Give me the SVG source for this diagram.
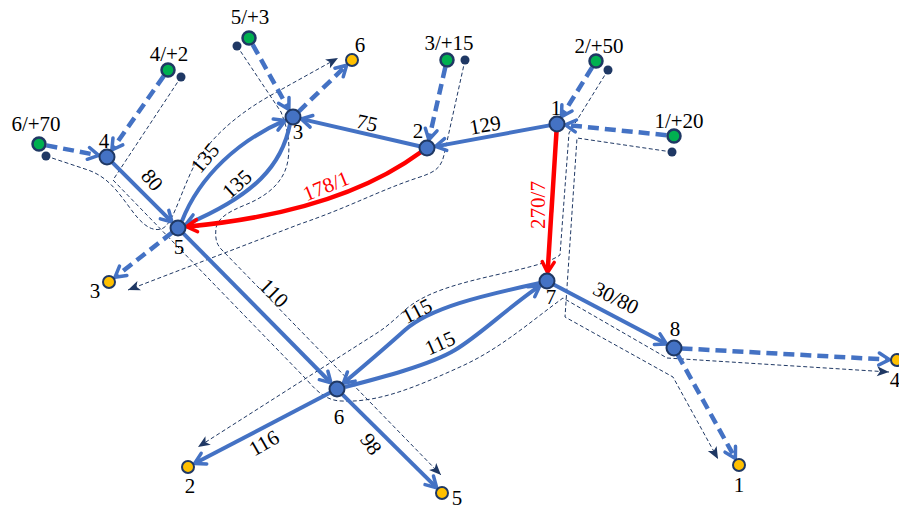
<svg xmlns="http://www.w3.org/2000/svg" width="899" height="509" viewBox="0 0 899 509" font-family="'Liberation Serif', 'Times New Roman', 'DejaVu Serif', serif">
<defs>
<style>
.e{fill:none;stroke:#4472C4;stroke-width:4;marker-end:url(#ab)}
.d{fill:none;stroke:#4472C4;stroke-width:4.5;stroke-dasharray:11 6;marker-end:url(#ab)}
.r{fill:none;stroke:#FF0000;stroke-width:4.5;marker-end:url(#ar)}
.f{fill:none;stroke:#1F3864;stroke-width:1;stroke-dasharray:4 2.5;marker-end:url(#af)}
.n{fill:#4472C4;stroke:#1F3864;stroke-width:2}
.g{fill:#00B050;stroke:#1F3864;stroke-width:2.5}
.y{fill:#FFC000;stroke:#1F3864;stroke-width:2}
.k{fill:#1F3864}
text{font-family:'Liberation Serif','Times New Roman','DejaVu Serif',serif;font-size:21px;fill:#000;text-anchor:middle}
.rt{fill:#FF0000}
</style>
<marker id="ab" viewBox="0 0 15 15" refX="10" refY="7.5" markerWidth="15" markerHeight="15" markerUnits="userSpaceOnUse" orient="auto" overflow="visible"><path d="M1.5,1.5 L12,7.5 L1.5,13.5" fill="none" stroke="#4472C4" stroke-width="3.5" stroke-linecap="round" stroke-linejoin="round"/></marker>
<marker id="ar" viewBox="0 0 15 15" refX="10" refY="7.5" markerWidth="15" markerHeight="15" markerUnits="userSpaceOnUse" orient="auto" overflow="visible"><path d="M1.5,1.5 L12,7.5 L1.5,13.5" fill="none" stroke="#FF0000" stroke-width="3.5" stroke-linecap="round" stroke-linejoin="round"/></marker>
<marker id="af" viewBox="0 0 12 10" refX="12" refY="5" markerWidth="12" markerHeight="10" markerUnits="userSpaceOnUse" orient="auto" overflow="visible"><path d="M0,0 L12,5 L0,10 L3,5 Z" fill="#1F3864"/></marker>
</defs>
<rect width="899" height="509" fill="#fff"/>
<g id="connectors">
<g id="flow-paths">
<path class="f" d="M46,156 L88,170 C108,177 118,192 130,208 C140,222 150,232 161,229 C172,226 178,200 192,170 C208,138 240,112 275,93 L338,58"/>
<path class="f" d="M181,77 L113,180 L307,380 C318,393 328,401 342,401 C380,403 420,385 460,367 C500,349 530,322 563,298 L667,358 L889,372"/>
<path class="f" d="M237,46 L281,112 C286,125 291,140 288,160 C285,180 270,195 245,205 C228,212 218,218 216,228 C215,238 216,244 222,250 L441,475"/>
<path class="f" d="M465,60 L444,155 C441,168 435,172 420,177 C380,190 350,207 300,224 L128,290"/>
<path class="f" d="M608,70 L569,133 L560,255 C550,262 535,266 500,274 C460,283 425,292 405,310 C392,322 385,328 377,333 L198,447"/>
<path class="f" d="M672,152 L577,138 L565,317 L673,377 L718,459"/>
</g>
<g id="edges">
<path class="e" d="M549.6,125.4 L437.3,146.1"/>
<path class="e" d="M419.7,146.3 L303.2,119.4"/>
<path class="e" d="M112.3,162.3 L170.6,220.6"/>
<path class="e" d="M183.3,233.3 L329.6,381.5"/>
<path class="e" d="M553.6,284.5 L664.7,343.1"/>
<path class="e" d="M330.4,392.5 L196.4,462.6"/>
<path class="e" d="M342.3,394.3 L435.3,486.3"/>
<path class="e" d="M182,221 C200,175 240,140 283.4,121.2"/>
<path class="e" d="M290,124 C282,165 255,195 187.6,223.8"/>
<path class="e" d="M540,283 C480,296 430,308 405,330 C385,348 365,365 344.8,382"/>
<path class="e" d="M345,387 C380,378 430,365 455,350 C480,335 505,310 538.3,286.9"/>
<path class="r" d="M421,152 Q340,212 188.5,226.5"/>
<path class="r" d="M556.5,131.5 L547.7,270.5"/>
<path class="d" d="M46.4,145.4 L96.7,155"/>
<path class="d" d="M163.7,76.1 L113,148.4"/>
<path class="d" d="M252.7,44.6 L287.9,107.8"/>
<path class="d" d="M298.4,111.8 L345.2,66.6"/>
<path class="d" d="M445.3,67.3 L429.3,137.8"/>
<path class="d" d="M592.1,67.4 L562.5,115.1"/>
<path class="d" d="M666.5,135.2 L567.4,125.1"/>
<path class="d" d="M172.1,232.6 L116.5,276.1"/>
<path class="d" d="M677.6,354.6 L734.4,456.7"/>
<path class="d" d="M681.5,348.4 L887.5,359.5"/>
</g>
<g id="edge-labels">
<text transform="translate(485,125) rotate(-10)" y="7">129</text>
<text transform="translate(367,123) rotate(13)" y="7">75</text>
<text class="rt" transform="translate(326,186) rotate(-22)" y="7">178/1</text>
<text class="rt" transform="translate(538,205) rotate(-90)" y="7">270/7</text>
<text transform="translate(205,158) rotate(-50)" y="7">135</text>
<text transform="translate(237,184) rotate(-42)" y="7">135</text>
<text transform="translate(152,180) rotate(50)" y="7">80</text>
<text transform="translate(274,293) rotate(45)" y="7">110</text>
<text transform="translate(417,311) rotate(-27)" y="7">115</text>
<text transform="translate(440,343) rotate(-24)" y="7">115</text>
<text transform="translate(616,298) rotate(27)" y="7">30/80</text>
<text transform="translate(264,443) rotate(-30)" y="7">116</text>
<text transform="translate(371,444) rotate(55)" y="7">98</text>
</g>
</g>
<g id="node-1"><circle class="n" cx="557" cy="124" r="7.5"/><text x="556" y="115">1</text></g>
<g id="node-2"><circle class="n" cx="427" cy="148" r="7.5"/><text x="418" y="138">2</text></g>
<g id="node-3"><circle class="n" cx="293" cy="117" r="7.5"/><text x="298" y="139">3</text></g>
<g id="node-4"><circle class="n" cx="107" cy="157" r="7.5"/><text x="104" y="148">4</text></g>
<g id="node-5"><circle class="n" cx="178" cy="228" r="7.5"/><text x="179" y="254">5</text></g>
<g id="node-6"><circle class="n" cx="337" cy="389" r="7.5"/><text x="339" y="424">6</text></g>
<g id="node-7"><circle class="n" cx="547" cy="281" r="7.5"/><text x="551" y="304">7</text></g>
<g id="node-8"><circle class="n" cx="674" cy="348" r="7.5"/><text x="675" y="336">8</text></g>
<g id="source-6"><circle class="k" cx="46" cy="156" r="4.5"/><circle class="g" cx="39" cy="144" r="6.5"/><text x="36" y="131">6/+70</text></g>
<g id="source-4"><circle class="k" cx="181" cy="77" r="4.5"/><circle class="g" cx="168" cy="70" r="6.5"/><text x="169" y="61">4/+2</text></g>
<g id="source-5"><circle class="k" cx="237" cy="46" r="4.5"/><circle class="g" cx="249" cy="38" r="6.5"/><text x="250" y="24">5/+3</text></g>
<g id="source-3"><circle class="k" cx="465" cy="60" r="4.5"/><circle class="g" cx="447" cy="60" r="6.5"/><text x="449" y="50">3/+15</text></g>
<g id="source-2"><circle class="k" cx="608" cy="70" r="4.5"/><circle class="g" cx="596" cy="61" r="6.5"/><text x="599" y="53">2/+50</text></g>
<g id="source-1"><circle class="k" cx="672" cy="152" r="4.5"/><circle class="g" cx="674" cy="136" r="6.5"/><text x="679" y="128">1/+20</text></g>
<g id="sink-6"><circle class="y" cx="352" cy="60" r="6"/><text x="360" y="52">6</text></g>
<g id="sink-3"><circle class="y" cx="109" cy="282" r="6"/><text x="95" y="298">3</text></g>
<g id="sink-2"><circle class="y" cx="188" cy="467" r="6"/><text x="190" y="493">2</text></g>
<g id="sink-5"><circle class="y" cx="442" cy="493" r="6"/><text x="457" y="505">5</text></g>
<g id="sink-1"><circle class="y" cx="739" cy="465" r="6"/><text x="739" y="492">1</text></g>
<g id="sink-4"><circle class="y" cx="897" cy="360" r="6"/><text x="895" y="387">4</text></g>
</svg>
